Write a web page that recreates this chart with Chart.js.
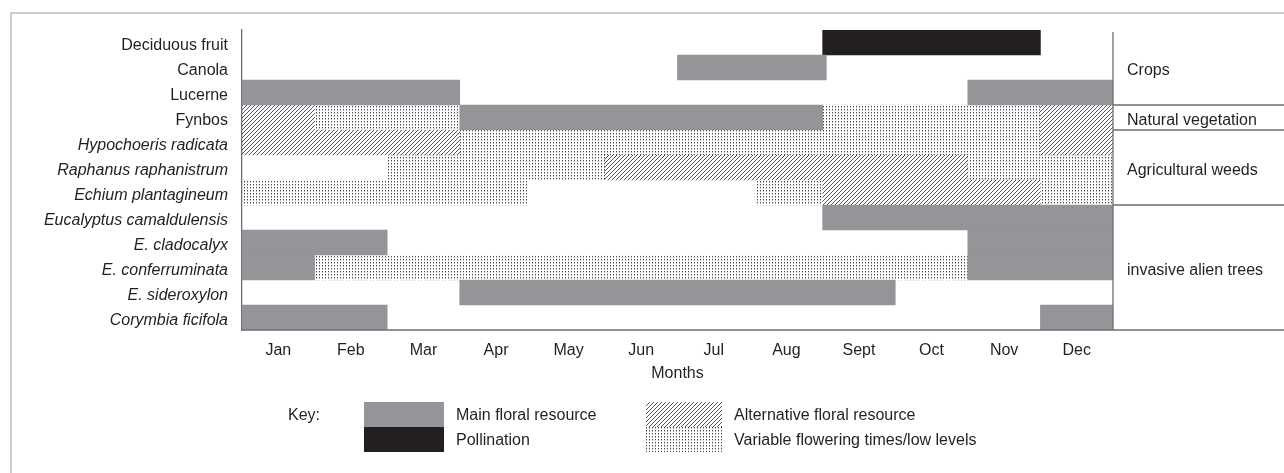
<!DOCTYPE html>
<html>
<head>
<meta charset="utf-8">
<script src="https://cdn.jsdelivr.net/npm/chart.js@4.4.1/dist/chart.umd.min.js"></script>
<style>
  html, body { margin: 0; padding: 0; background: #fff; }
  body { width: 1284px; height: 473px; position: relative; overflow: hidden; }
  #frame { position: absolute; left: 10px; top: 12px; width: 2000px; height: 1000px;
           border-left: 2px solid #cdcdcd; border-top: 2px solid #cdcdcd; }
  #wrap { position: absolute; left: 0; top: 0; width: 1284px; height: 473px; }
</style>
</head>
<body>
<div id="frame"></div>
<div id="wrap"><canvas id="chart"></canvas></div>
<script>
// rows, top to bottom
const plants = [
    "Deciduous fruit", "Canola", "Lucerne", "Fynbos",
    "Hypochoeris radicata", "Raphanus raphanistrum", "Echium plantagineum",
    "Eucalyptus camaldulensis", "E. cladocalyx", "E. conferruminata",
    "E. sideroxylon", "Corymbia ficifola"
];
const months = ["Jan", "Feb", "Mar", "Apr", "May", "Jun", "Jul", "Aug", "Sept", "Oct", "Nov", "Dec"];

// [start, end] in months (0 = start of Jan, 12 = end of Dec)
const mainFirst   = [null, [6, 8.05], [0, 3], [3, 8], null, null, null, [8, 12], [0, 2], [0, 1], [3, 9], [0, 2]];
const mainSecond  = [null, null, [10, 12], null, null, null, null, null, [10, 12], [10, 12], null, [11, 12]];
const pollination = [[8, 11], null, null, null, null, null, null, null, null, null, null, null];
const altFirst    = [null, null, null, [0, 1], [0, 3], [5, 10], [8, 11], null, null, null, null, null];
const altSecond   = [null, null, null, [11, 12], [11, 12], null, null, null, null, null, null, null];
const varFirst    = [null, null, null, [1, 3], [3, 11], [2, 5], [0, 3.93], null, null, [1, 10], null, null];
const varSecond   = [null, null, null, [8, 11], null, [10, 12], [7.07, 8], null, null, null, null, null];
const varThird    = [null, null, null, null, null, null, [11, 12], null, null, null, null, null];

const groupNames = ["Crops", "Natural vegetation", "Agricultural weeds", "invasive alien trees"];
const groupFrom  = [0, 3, 4, 7];
const groupTo    = [2, 3, 6, 11];

const keyLabels = ["Main floral resource", "Pollination", "Alternative floral resource", "Variable flowering times/low levels"];

const GREY = "#939598";
const BLACK = "#231f20";
const LINE = "#6d6e71";
const TEXT = "#231f20";
const FONT = "'Liberation Sans', Arial, sans-serif";

function makeHatch() {
    const c = document.createElement("canvas");
    c.width = 4; c.height = 4;
    const g = c.getContext("2d");
    g.fillStyle = "#555";
    for (let i = 0; i < 4; i++) g.fillRect(i, 3 - i, 1, 1);
    return g.createPattern(c, "repeat");
}

function makeDots() {
    const c = document.createElement("canvas");
    c.width = 3; c.height = 3;
    const g = c.getContext("2d");
    g.fillStyle = "#444";
    g.fillRect(1, 1, 1, 1);
    g.fillStyle = "#b5b5b5";
    g.fillRect(1, 2, 1, 1);
    return g.createPattern(c, "repeat");
}

const hatch = makeHatch();
const dots = makeDots();

function seg(label, data, fill) {
    return {
        label: label,
        data: data,
        backgroundColor: fill,
        borderWidth: 0,
        grouped: false,
        barPercentage: 1,
        categoryPercentage: 1
    };
}

const decorations = {
    id: "decorations",
    afterDraw(chart) {
        const { ctx, chartArea: a, scales: { y } } = chart;
        const rowH = y.getPixelForValue(1) - y.getPixelForValue(0);
        ctx.save();
        ctx.strokeStyle = LINE;
        ctx.lineWidth = 1.3;
        ctx.beginPath();
        ctx.moveTo(a.right, a.top + 2);
        ctx.lineTo(a.right, a.bottom);
        ctx.moveTo(a.left, a.bottom);
        ctx.lineTo(chart.width, a.bottom);
        groupNames.forEach((name, i) => {
            const bottom = y.getPixelForValue(groupTo[i]) + rowH / 2;
            ctx.moveTo(a.right, bottom);
            ctx.lineTo(chart.width, bottom);
        });
        ctx.stroke();

        ctx.fillStyle = TEXT;
        ctx.font = "16px " + FONT;
        ctx.textBaseline = "middle";
        ctx.textAlign = "left";
        groupNames.forEach((name, i) => {
            const top = y.getPixelForValue(groupFrom[i]) - rowH / 2;
            const bottom = y.getPixelForValue(groupTo[i]) + rowH / 2;
            ctx.fillText(name, a.right + 14, (top + bottom) / 2 + 3);
        });

        // key
        const fills = [GREY, BLACK, hatch, dots];
        const boxX = [364, 364, 646, 646];
        const boxY = [402, 427, 402, 427];
        ctx.fillText("Key:", 288, 416);
        keyLabels.forEach((lab, i) => {
            ctx.fillStyle = fills[i];
            ctx.fillRect(boxX[i], boxY[i], i < 2 ? 80 : 76, 25);
            ctx.fillStyle = TEXT;
            ctx.fillText(lab, boxX[i] + (i < 2 ? 92 : 88), boxY[i] + 14);
        });
        ctx.restore();
    }
};

new Chart(document.getElementById("chart"), {
    type: "bar",
    data: {
        labels: plants,
        datasets: [
            seg("Main floral resource", mainFirst, GREY),
            seg("Main floral resource", mainSecond, GREY),
            seg("Pollination", pollination, BLACK),
            seg("Alternative floral resource", altFirst, hatch),
            seg("Alternative floral resource", altSecond, hatch),
            seg("Variable flowering times/low levels", varFirst, dots),
            seg("Variable flowering times/low levels", varSecond, dots),
            seg("Variable flowering times/low levels", varThird, dots)
        ]
    },
    options: {
        indexAxis: "y",
        responsive: true,
        maintainAspectRatio: false,
        animation: false,
        layout: { padding: { top: 30, right: 171, bottom: 90, left: 0 } },
        plugins: { legend: { display: false }, tooltip: { enabled: false } },
        scales: {
            x: {
                type: "linear",
                min: 0,
                max: 12,
                grid: { display: false },
                border: { display: false },
                afterBuildTicks: (scale) => {
                    scale.ticks = months.map((m, i) => ({ value: i + 0.5 }));
                },
                afterFit: (scale) => { scale.height = 53; },
                ticks: {
                    autoSkip: false,
                    maxRotation: 0,
                    padding: 3,
                    color: TEXT,
                    font: { family: FONT, size: 16 },
                    callback: (v, i) => months[i]
                },
                title: {
                    display: true,
                    text: "Months",
                    color: TEXT,
                    padding: 0,
                    font: { family: FONT, size: 16 }
                }
            },
            y: {
                grid: { display: false },
                border: { display: true, color: LINE, width: 1.3 },
                afterFit: (scale) => { scale.width = 242; },
                ticks: {
                    autoSkip: false,
                    padding: 6,
                    labelOffset: 3,
                    color: TEXT,
                    font: (c) => ({ family: FONT, size: 16, style: c.index >= 4 ? "italic" : "normal" })
                }
            }
        }
    },
    plugins: [decorations]
});
</script>
</body>
</html>
